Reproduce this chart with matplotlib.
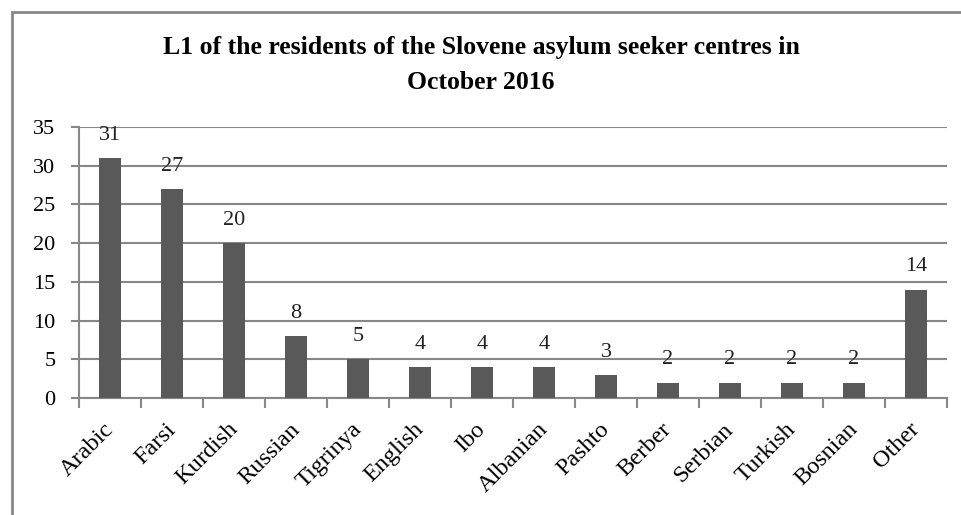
import numpy as np
import matplotlib.pyplot as plt
import matplotlib.transforms as mtransforms
from matplotlib.patches import Rectangle

languages = ["Arabic", "Farsi", "Kurdish", "Russian", "Tigrinya", "English", "Ibo",
             "Albanian", "Pashto", "Berber", "Serbian", "Turkish", "Bosnian", "Other"]
counts = [31, 27, 20, 8, 5, 4, 4, 4, 3, 2, 2, 2, 2, 14]
yticks = [0, 5, 10, 15, 20, 25, 30, 35]

plt.rcParams['font.family'] = ['Liberation Serif', 'DejaVu Serif']

grey = "#878787"
fig = plt.figure(figsize=(9.62, 5.15), dpi=100)
fig.patches.append(Rectangle((12 / 962, -0.1), 1.2, 1.1 - 12 / 515,
                             transform=fig.transFigure, fill=False,
                             edgecolor=grey, linewidth=2))
ax = fig.add_axes([79 / 962, 1 - 398 / 515, (947 - 79) / 962, (398 - 127) / 515])

x = np.arange(len(languages))
ax.bar(x, counts, width=0.37, color="#595959", zorder=3)
for xi, v in zip(x, counts):
    ax.annotate(str(v), (xi, v), xytext=(0, 9.5), textcoords="offset points",
                ha="center", va="bottom", fontsize=16, color="#222222")

ax.set_xlim(-0.5, len(languages) - 0.5)
ax.set_ylim(0, 35)
ax.set_yticks(yticks)
ax.tick_params(axis='y', labelsize=16, length=6, width=1.5, color=grey, pad=11)
ax.yaxis.grid(True, color=grey, linewidth=1.5, zorder=0)

ax.set_xticks(x)
ax.set_xticklabels(languages, rotation=45, ha="right", rotation_mode="anchor", fontsize=17.5)
ax.tick_params(axis='x', which='major', length=0, pad=15)
ax.set_xticks(np.arange(-0.5, len(languages)), minor=True)
ax.tick_params(axis='x', which='minor', length=7, width=1.5, color=grey)
shift = mtransforms.ScaledTranslation(-5 / 72, 0, fig.dpi_scale_trans)
for lab in ax.get_xticklabels():
    lab.set_transform(lab.get_transform() + shift)

for s in ["top", "right"]:
    ax.spines[s].set_visible(False)
for s in ["left", "bottom"]:
    ax.spines[s].set_color(grey)
    ax.spines[s].set_linewidth(1.5)

fig.text(0.5, 1 - 65 / 515, "L1 of the residents of the Slovene asylum seeker centres in\nOctober 2016",
         ha="center", va="center", fontsize=18.5, fontweight="bold", linespacing=1.62)

fig.savefig("out.png", dpi=100)
